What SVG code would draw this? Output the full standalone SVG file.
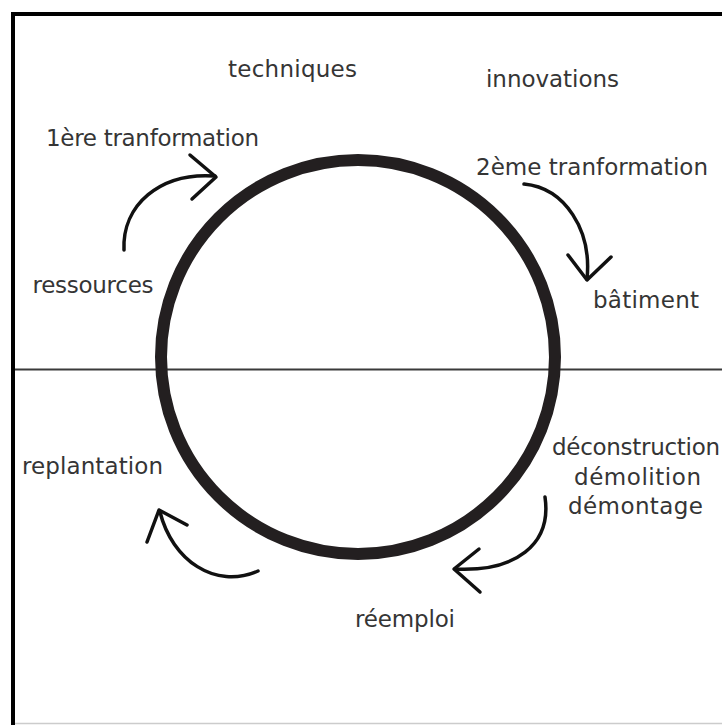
<svg xmlns="http://www.w3.org/2000/svg" width="722" height="725" viewBox="0 0 722 725">
<style>
.lbl{font-family:"DejaVu Sans","Liberation Sans",sans-serif;font-size:23px;fill:#353535;text-anchor:middle}
.arr{fill:none;stroke:#111;stroke-width:3.5;stroke-linecap:round;stroke-linejoin:round}
</style>
<rect width="722" height="725" fill="#fff"/>
<g id="frame">
<line x1="11" y1="14" x2="722" y2="14" stroke="#000" stroke-width="4"/>
<line x1="13" y1="12" x2="13" y2="725" stroke="#000" stroke-width="4"/>
<line x1="15" y1="723.5" x2="722" y2="723.5" stroke="#ccc" stroke-width="1.5"/>
<line x1="15" y1="369.5" x2="722" y2="369.5" stroke="#3a3a3a" stroke-width="2"/>
</g>
<g id="cycle">
<circle cx="358" cy="357" r="197" fill="none" stroke="#231f20" stroke-width="12"/>
</g>
<g id="connectors">
<path class="arr" d="M124,250 C122,205 160,172 215,176"/>
<path class="arr" d="M190,155 L216,177 L192,199"/>
<path class="arr" d="M524,184 C565,188 592,230 587,279"/>
<path class="arr" d="M568,255 L587,280 L611,257"/>
<path class="arr" d="M545,497 C552,545 515,572 455,569"/>
<path class="arr" d="M479,549 L454,569 L480,592"/>
<path class="arr" d="M258,571 C215,590 172,560 160,512"/>
<path class="arr" d="M147,542 L159,510 L187,525"/>
</g>
<g id="techniques"><text class="lbl" x="292.5" y="77" textLength="129">techniques</text></g>
<g id="innovations"><text class="lbl" x="552.5" y="87" textLength="133">innovations</text></g>
<g id="t1"><text class="lbl" x="152.5" y="146" textLength="213">1ère tranformation</text></g>
<g id="t2"><text class="lbl" x="592" y="175" textLength="232">2ème tranformation</text></g>
<g id="ressources"><text class="lbl" x="93" y="293" textLength="121">ressources</text></g>
<g id="batiment"><text class="lbl" x="646" y="308" textLength="106">bâtiment</text></g>
<g id="replantation"><text class="lbl" x="92.5" y="474" textLength="141">replantation</text></g>
<g id="fin">
<text class="lbl" x="636" y="455" textLength="168">déconstruction</text>
<text class="lbl" x="637.5" y="485" textLength="127">démolition</text>
<text class="lbl" x="635.5" y="514" textLength="135">démontage</text>
</g>
<g id="reemploi"><text class="lbl" x="405" y="627" textLength="100">réemploi</text></g>
</svg>
